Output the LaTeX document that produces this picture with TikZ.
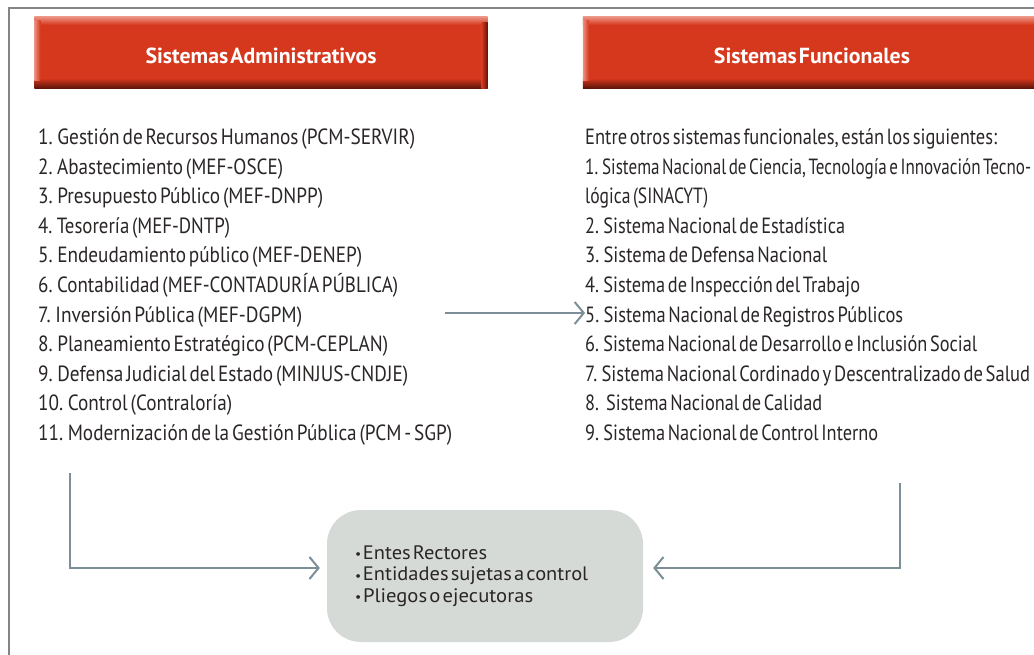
\documentclass[tikz,border=0pt]{standalone}
\usepackage{fontspec}
\setmainfont{PT Sans}
\newfontfamily\condfam{PT Sans}[FakeStretch=0.87, WordSpace=0.55]
\newfontfamily\boxfam{PT Sans}[WordSpace=0.45]
\newfontfamily\titlefam{PT Sans}[WordSpace=0.4]
\usetikzlibrary{arrows.meta}
\newsavebox\fitbox
\newcommand\fitto[2]{\sbox\fitbox{#2}\pgfmathsetmacro\fitfac{#1/\wd\fitbox}\scalebox{\fitfac}[1]{\usebox\fitbox}}
\newcommand\smbul{{\fontsize{13}{13}\selectfont\raisebox{0.5pt}{•}}\kern1.5pt}
\definecolor{redbox}{HTML}{D6381E}
\definecolor{redlight}{HTML}{EC9282}
\definecolor{reddark}{HTML}{5C1408}
\definecolor{arrowc}{HTML}{7C8E97}
\definecolor{framec}{HTML}{858585}
\definecolor{boxgray}{HTML}{D6DAD6}
\definecolor{txt}{HTML}{2A2626}
\tikzset{
  titlebox/.style={fill=redbox, draw=none, inner sep=0pt, text=white,
    font=\titlefam\bfseries\fontsize{21.8}{22}\selectfont},
  listitem/.style={anchor=base west, inner sep=0pt, text=txt,
    font=\condfam\fontsize{22}{24}\selectfont},
  conn/.style={draw=arrowc, line width=2.4pt,
    -{Straight Barb[length=9pt,width=22pt,line width=2pt]}},
  graybox/.style={fill=boxgray, draw=none, rounded corners=34pt},
  boxtext/.style={anchor=base west, inner sep=0pt, text=txt,
    font=\boxfam\fontsize{19.5}{21.5}\selectfont}
}
\begin{document}
\begin{tikzpicture}[x=1pt,y=-1pt]
\useasboundingbox (0,0) rectangle (1034,655);
\fill[white] (0,0) rectangle (1034,655);
\draw[framec, line width=2pt] (9,660) -- (9,8) -- (1040,8);

% title boxes
\node[titlebox, minimum width=453pt, minimum height=71pt] (ta) at (261,52.5) {};
\shade[top color=redlight, bottom color=redbox] (ta.north west) rectangle ([yshift=-8pt]ta.north east);
\shade[top color=redbox, bottom color=reddark] ([yshift=10pt]ta.south west) rectangle (ta.south east);
\shade[left color=redbox, right color=reddark] ([xshift=-6pt,yshift=-6pt]ta.north east) rectangle (ta.south east);
\shade[left color=redlight, right color=redbox] ([yshift=-4pt]ta.north west) rectangle ([xshift=6pt,yshift=8pt]ta.south west);
\node[titlebox] (tat) at ([yshift=-3pt]ta.center) {Sistemas Administrativos};

\node[titlebox, minimum width=458pt, minimum height=71pt] (tf) at (812,52.5) {};
\shade[top color=redlight, bottom color=redbox] (tf.north west) rectangle ([yshift=-8pt]tf.north east);
\shade[top color=redbox, bottom color=reddark] ([yshift=10pt]tf.south west) rectangle (tf.south east);
\shade[left color=redlight, right color=redbox] ([yshift=-4pt]tf.north west) rectangle ([xshift=6pt,yshift=8pt]tf.south west);
\node[titlebox] (tft) at ([yshift=-3pt]tf.center) {Sistemas Funcionales};

% left list
\foreach \w/\t [count=\i from 0] in {
  377/{1. Gestión de Recursos Humanos (PCM-SERVIR)},
  245/{2. Abastecimiento (MEF-OSCE)},
  285/{3. Presupuesto Público (MEF-DNPP)},
  192/{4. Tesorería (MEF-DNTP)},
  324/{5. Endeudamiento público (MEF-DENEP)},
  360/{6. Contabilidad (MEF-CONTADURÍA PÚBLICA)},
  264/{7. Inversión Pública (MEF-DGPM)},
  350/{8. Planeamiento Estratégico (PCM-CEPLAN)},
  370/{9. Defensa Judicial del Estado (MINJUS-CNDJE)},
  194/{10. Control (Contraloría)},
  414/{11. Modernización de la Gestión Pública (PCM - SGP)}}
  \node[listitem] (l\i) at (38,{144.5+29.6*\i}) {\fitto{\w}{\t}};

% right list
\foreach \w/\t [count=\i from 0] in {
  412/{Entre otros sistemas funcionales, están los siguientes:},
  446/{1. Sistema Nacional de Ciencia, Tecnología e Innovación Tecno-},
  123/{lógica (SINACYT)},
  260/{2. Sistema Nacional de Estadística},
  242/{3. Sistema de Defensa Nacional},
  275/{4. Sistema de Inspección del Trabajo},
  318/{5. Sistema Nacional de Registros Públicos},
  392/{6. Sistema Nacional de Desarrollo e Inclusión Social},
  445/{7. Sistema Nacional Cordinado y Descentralizado de Salud},
  237/{8. \ Sistema Nacional de Calidad},
  293/{9. Sistema Nacional de Control Interno}}
  \node[listitem] (r\i) at (585,{144.5+29.6*\i}) {\fitto{\w}{\t}};

% middle arrow
\coordinate (ms) at (445,313);
\draw[conn] (ms) -- (ms -| r6.west);

% bottom box
\node[graybox, minimum width=316pt, minimum height=132pt] (box) at (485,576) {};
\node[boxtext] (b1) at (355,559) {\fitto{132}{\smbul Entes Rectores}};
\node[boxtext] (b2) at (355,580.5) {\fitto{233}{\smbul Entidades sujetas a control}};
\node[boxtext] (b3) at (355,602) {\fitto{178}{\smbul Pliegos o ejecutoras}};

\coordinate (ls) at (70,473);
\coordinate (rs) at (900,483);
\draw[conn, shorten >=7pt] (ls) |- ([yshift=8pt]box.west);
\draw[conn, shorten >=10pt] (rs) |- ([yshift=8pt]box.east);
\end{tikzpicture}
\end{document}
